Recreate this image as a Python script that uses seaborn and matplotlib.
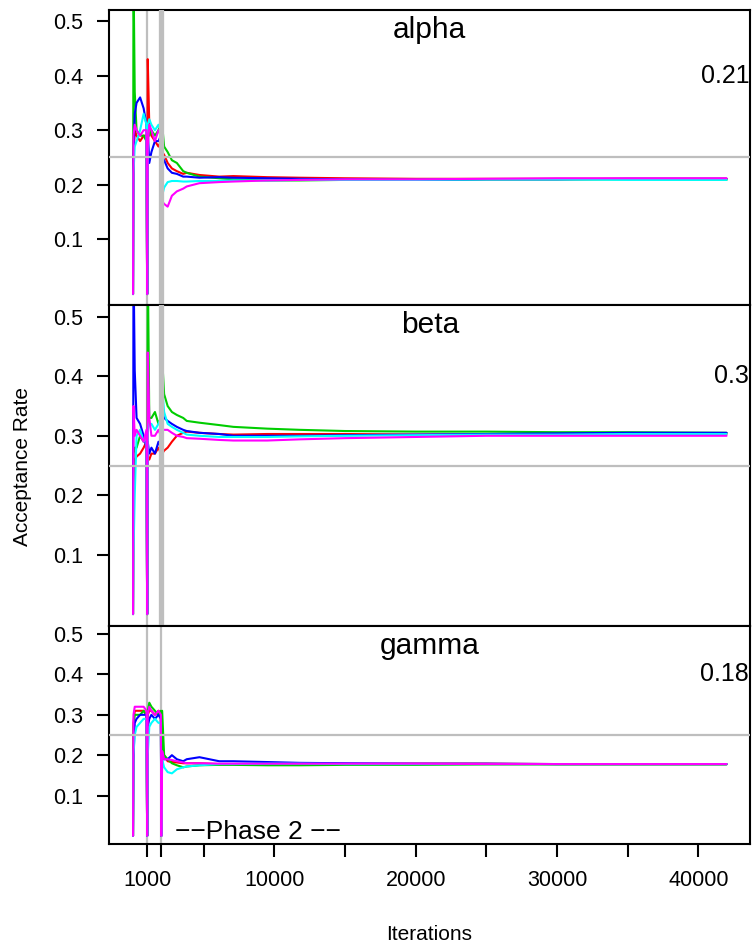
import numpy as np
import pandas as pd
import matplotlib
matplotlib.use("Agg")
import matplotlib.pyplot as plt
import seaborn as sns
from matplotlib.transforms import offset_copy

sns.set_style("white")
plt.rcParams['font.family'] = ['Liberation Sans', 'DejaVu Sans']
plt.rcParams['text.color'] = 'black'
plt.rcParams['axes.labelcolor'] = 'black'
plt.rcParams['xtick.color'] = 'black'
plt.rcParams['ytick.color'] = 'black'

# ---------------- data ----------------
ITERS = [0, 30, 120, 250, 500, 750, 950, 1000, 1040, 1150, 1300, 1550, 1800, 1970,
         2000, 2060, 2200, 2450, 2750, 3100, 3550, 3800, 4700, 6100, 7100, 9500,
         11800, 15000, 20000, 25000, 30000, 35000, 42000]

CHAINS = ["red", "green", "blue", "cyan", "magenta"]
COLORS = ["#FF0000", "#00CD00", "#0000FF", "#00FFFF", "#FF00FF"]

PARAMS = ["alpha", "beta", "gamma"]
FINAL_RATES = ["0.21", "0.3", "0.18"]
TARGET_RATE = 0.25
PHASE_BREAKS = [1000, 2000]

alpha_red = [0, 0.25, 0.30, 0.29, 0.28, 0.29, 0.29, 0, 0.43, 0.31, 0.29, 0.28, 0.27, 0.28,
             0, 0.26, 0.255, 0.24, 0.23, 0.225, 0.22, 0.222, 0.218, 0.215, 0.216, 0.214,
             0.213, 0.212, 0.211, 0.211, 0.211, 0.211, 0.211]
alpha_green = [0, 0.60, 0.37, 0.30, 0.29, 0.29, 0.28, 0, 0.30, 0.29, 0.30, 0.29, 0.30, 0.31,
               0, 0.31, 0.27, 0.26, 0.245, 0.24, 0.225, 0.222, 0.215, 0.212, 0.21, 0.208,
               0.208, 0.209, 0.209, 0.21, 0.21, 0.21, 0.209]
alpha_blue = [0, 0.25, 0.33, 0.35, 0.36, 0.34, 0.31, 0, 0.30, 0.24, 0.26, 0.28, 0.28, 0.29,
              0, 0.25, 0.245, 0.23, 0.222, 0.22, 0.215, 0.215, 0.213, 0.214, 0.213, 0.212,
              0.211, 0.21, 0.209, 0.21, 0.21, 0.211, 0.211]
alpha_cyan = [0, 0.22, 0.27, 0.28, 0.30, 0.33, 0.31, 0, 0.31, 0.32, 0.31, 0.30, 0.31, 0.30,
              0, 0.18, 0.195, 0.205, 0.207, 0.207, 0.206, 0.206, 0.207, 0.207, 0.208, 0.208,
              0.209, 0.209, 0.209, 0.21, 0.21, 0.209, 0.209]
alpha_magenta = [0, 0.29, 0.31, 0.30, 0.29, 0.30, 0.30, 0, 0.27, 0.31, 0.30, 0.28, 0.30, 0.29,
                 0, 0.17, 0.165, 0.16, 0.18, 0.188, 0.193, 0.197, 0.203, 0.205, 0.206, 0.208,
                 0.209, 0.21, 0.21, 0.211, 0.212, 0.212, 0.212]

beta_red = [0, 0.22, 0.26, 0.265, 0.27, 0.28, 0.29, 0, 0.26, 0.26, 0.27, 0.27, 0.28, 0.27,
            0, 0.27, 0.275, 0.28, 0.29, 0.30, 0.305, 0.307, 0.305, 0.303, 0.302, 0.303,
            0.303, 0.303, 0.302, 0.302, 0.303, 0.303, 0.303]
beta_green = [0, 0.27, 0.28, 0.28, 0.30, 0.29, 0.30, 0, 0.60, 0.33, 0.33, 0.34, 0.32, 0.33,
              0, 0.43, 0.37, 0.35, 0.34, 0.335, 0.33, 0.325, 0.322, 0.318, 0.315, 0.312,
              0.31, 0.308, 0.307, 0.307, 0.306, 0.306, 0.305]
beta_blue = [0, 0.60, 0.41, 0.33, 0.32, 0.30, 0.28, 0, 0.29, 0.27, 0.28, 0.27, 0.29, 0.28,
             0, 0.34, 0.33, 0.325, 0.32, 0.315, 0.31, 0.308, 0.305, 0.303, 0.30, 0.30,
             0.30, 0.301, 0.302, 0.303, 0.304, 0.305, 0.305]
beta_cyan = [0, 0.10, 0.20, 0.30, 0.31, 0.29, 0.30, 0, 0.31, 0.32, 0.32, 0.31, 0.32, 0.33,
             0, 0.38, 0.34, 0.32, 0.315, 0.31, 0.305, 0.302, 0.30, 0.298, 0.298, 0.298,
             0.299, 0.30, 0.301, 0.302, 0.302, 0.303, 0.303]
beta_magenta = [0, 0.35, 0.30, 0.31, 0.30, 0.29, 0.31, 0, 0.44, 0.33, 0.30, 0.30, 0.31, 0.30,
                0, 0.31, 0.31, 0.31, 0.305, 0.30, 0.298, 0.296, 0.295, 0.293, 0.292, 0.292,
                0.294, 0.296, 0.298, 0.30, 0.30, 0.30, 0.30]

gamma_red = [0, 0.28, 0.31, 0.31, 0.31, 0.31, 0.30, 0, 0.30, 0.31, 0.31, 0.30, 0.31, 0.30,
             0, 0.21, 0.20, 0.185, 0.183, 0.182, 0.18, 0.18, 0.18, 0.178, 0.177, 0.176,
             0.177, 0.178, 0.179, 0.179, 0.178, 0.178, 0.178]
gamma_green = [0, 0.27, 0.30, 0.30, 0.30, 0.31, 0.30, 0, 0.31, 0.33, 0.32, 0.31, 0.30, 0.31,
               0, 0.31, 0.20, 0.19, 0.18, 0.175, 0.17, 0.172, 0.175, 0.176, 0.176, 0.175,
               0.175, 0.176, 0.176, 0.177, 0.177, 0.177, 0.177]
gamma_blue = [0, 0.19, 0.28, 0.29, 0.30, 0.30, 0.30, 0, 0.27, 0.29, 0.30, 0.29, 0.30, 0.29,
              0, 0.20, 0.19, 0.19, 0.20, 0.19, 0.185, 0.19, 0.195, 0.185, 0.185, 0.183,
              0.181, 0.18, 0.179, 0.179, 0.178, 0.178, 0.178]
gamma_cyan = [0, 0.20, 0.25, 0.27, 0.28, 0.29, 0.29, 0, 0.20, 0.27, 0.28, 0.29, 0.28, 0.28,
              0, 0.19, 0.17, 0.158, 0.155, 0.165, 0.17, 0.172, 0.175, 0.178, 0.178, 0.179,
              0.179, 0.178, 0.178, 0.178, 0.178, 0.178, 0.178]
gamma_magenta = [0, 0.30, 0.32, 0.32, 0.32, 0.32, 0.31, 0, 0.30, 0.32, 0.31, 0.30, 0.31, 0.30,
                 0, 0.21, 0.19, 0.19, 0.188, 0.185, 0.182, 0.18, 0.18, 0.179, 0.179, 0.179,
                 0.179, 0.179, 0.179, 0.178, 0.178, 0.178, 0.178]

SERIES = {
    "alpha": [alpha_red, alpha_green, alpha_blue, alpha_cyan, alpha_magenta],
    "beta": [beta_red, beta_green, beta_blue, beta_cyan, beta_magenta],
    "gamma": [gamma_red, gamma_green, gamma_blue, gamma_cyan, gamma_magenta],
}

Y_TICKS = [0.1, 0.2, 0.3, 0.4, 0.5]
Y_TICKLABELS = ["0.1", "0.2", "0.3", "0.4", "0.5"]
X_TICKS = [1000, 2000, 5000, 10000, 15000, 20000, 25000, 30000, 35000, 40000]
X_TICKLABELS = ["1000", "", "", "10000", "", "20000", "", "30000", "", "40000"]

# ---------------- layout ----------------
W, H = 755, 948
fig = plt.figure(figsize=(W / 100, H / 100), dpi=100)
left_px, right_px = 109.3, 750.3
panel_px = [(10, 305), (305, 626), (626, 844)]
GRAY = "#BEBEBE"

axes = []
for i, (top, bot) in enumerate(panel_px):
    rect = [left_px / W, 1 - bot / H, (right_px - left_px) / W, (bot - top) / H]
    ax = fig.add_axes(rect)
    axes.append(ax)
    name = PARAMS[i]
    frames = []
    for chain, vals in zip(CHAINS, SERIES[name]):
        frames.append(pd.DataFrame({"iter": ITERS, "rate": vals, "chain": chain}))
    df = pd.concat(frames, ignore_index=True)

    for b in PHASE_BREAKS:
        ax.axvline(b, color=GRAY, lw=1.6, zorder=1)
    sns.lineplot(data=df, x="iter", y="rate", hue="chain", hue_order=CHAINS,
                 palette=dict(zip(CHAINS, COLORS)), estimator=None, sort=False,
                 legend=False, lw=1.5, ax=ax, zorder=2)
    if i < 2:
        ax.axvline(PHASE_BREAKS[1], color=GRAY, lw=3.8, zorder=4)
    ax.axhline(TARGET_RATE, color=GRAY, lw=1.6, zorder=5)

    ax.set_xlim(-1680, 43680)
    ax.set_ylim(-0.02, 0.52)
    ax.set_xlabel("")
    ax.set_ylabel("")
    ax.set_yticks(Y_TICKS)
    ax.set_yticklabels(Y_TICKLABELS)
    for s in ax.spines.values():
        s.set_visible(True)
        s.set_color("black")
        s.set_linewidth(1.5)
    ax.tick_params(axis="y", direction="out", length=9, width=1.5, labelsize=15.5,
                   pad=10, left=True, colors="black")
    if i < 2:
        ax.set_xticks([])
    else:
        ax.set_xticks(X_TICKS)
        ax.set_xticklabels(X_TICKLABELS)
        ax.tick_params(axis="x", direction="out", length=9, width=1.5, labelsize=15.5,
                       pad=10, bottom=True, colors="black")

    tr_title = offset_copy(ax.transAxes, fig=fig, x=0, y=-28, units="dots")
    ax.text(0.5, 1.0, name, transform=tr_title, ha="center", va="baseline",
            fontsize=21.5, color="black", zorder=6)
    ax.text(43600, 0.4, FINAL_RATES[i], ha="right", va="center",
            fontsize=18, color="black", zorder=6)

axes[2].text(2970, -0.007, "\u2212\u2212Phase 2 \u2212\u2212", ha="left", va="baseline",
             fontsize=19, color="black", zorder=6)

fig.text(23 / W, 1 - 466 / H, "Acceptance Rate", rotation=90, ha="center", va="center",
         fontsize=15, color="black")
fig.text(429.6 / W, 1 - 935 / H, "Iterations", ha="center", va="center", fontsize=15,
         color="black")

fig.savefig("out.png", dpi=100)
